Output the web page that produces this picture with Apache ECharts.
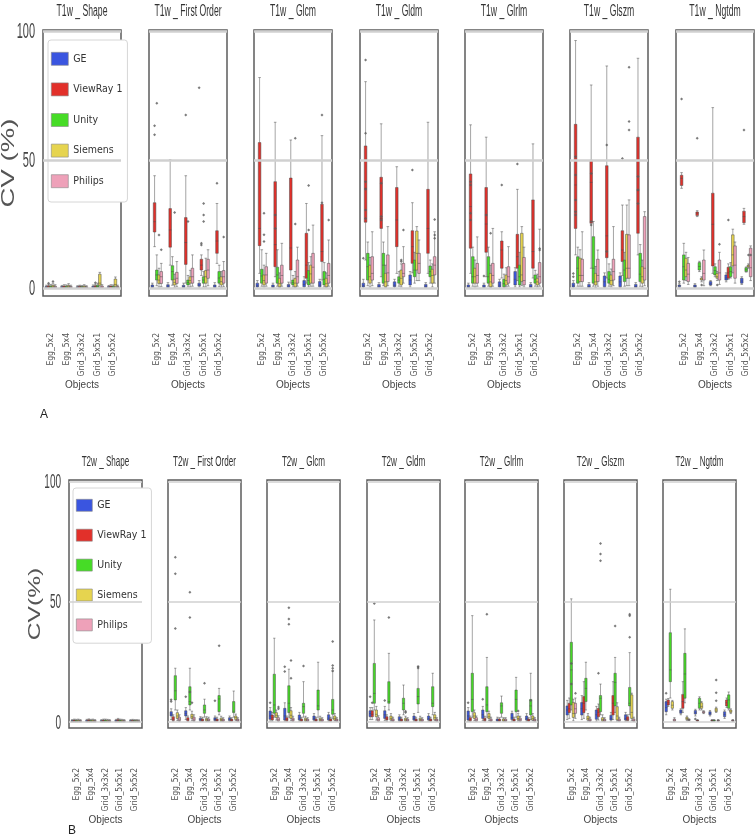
<!DOCTYPE html>
<html>
<head>
<meta charset="utf-8">
<script src="https://cdn.jsdelivr.net/npm/echarts@6/dist/echarts.min.js"></script>
<style>
  html, body { margin: 0; padding: 0; background: #fff; }
  #chart { width: 755px; height: 836px; }
</style>
</head>
<body>
<div id="chart"></div>
<script>
const objects = ['Egg_5x2', 'Egg_5x4', 'Grid_3x3x2', 'Grid_5x5x1', 'Grid_5x5x2'];
const vendors = ['GE', 'ViewRay 1', 'Unity', 'Siemens', 'Philips'];
const vendorColors = ['#3a55e0', '#e2302a', '#46dc26', '#e6d44f', '#eea1b9'];
const yTicks = [0, 50, 100];
const titlesT1 = ['T1w _ Shape', 'T1w _ First Order', 'T1w _ Glcm', 'T1w _ Gldm', 'T1w _ Glrlm', 'T1w _ Glszm', 'T1w _ Ngtdm'];
const titlesT2 = ['T2w _ Shape', 'T2w _ First Order', 'T2w _ Glcm', 'T2w _ Gldm', 'T2w _ Glrlm', 'T2w _ Glszm', 'T2w _ Ngtdm'];

// boxes: one row per object, inside it one box per vendor: [min, Q1, median, Q3, max]
const t1Shape = [
  [[0,0.2,0.4,0.7,1.2],[0,0.3,0.6,1,1.6],[0,0.2,0.5,0.9,1.5],[0.1,0.4,0.8,1.2,2],[0,0.2,0.5,0.8,1.4]],
  [[0,0.2,0.4,0.7,1.1],[0,0.3,0.5,0.9,1.4],[0,0.2,0.4,0.8,1.3],[0.1,0.3,0.7,1.1,1.8],[0,0.2,0.4,0.7,1.2]],
  [[0,0.2,0.4,0.6,1],[0,0.2,0.5,0.8,1.2],[0,0.2,0.4,0.7,1.1],[0.1,0.3,0.6,0.9,1.4],[0,0.2,0.4,0.6,1]],
  [[0,0.2,0.5,0.8,1.3],[0,0.3,0.6,1,1.6],[0,0.3,0.7,1.2,2],[0.3,1.2,2,5.5,6.2],[0,0.2,0.5,0.9,1.4]],
  [[0,0.2,0.4,0.7,1.1],[0,0.3,0.5,0.9,1.4],[0,0.2,0.5,0.8,1.3],[0.2,0.8,1.5,3.6,4.4],[0,0.2,0.4,0.7,1.2]]
];
const t1FirstOrder = [
  [[0,0.3,0.8,1.3,2],[16.2,21.9,25.9,33.3,43.8],[1,3.2,5.2,7.1,13],[0.5,1.9,3.2,5.2,7.8],[0.6,1.9,4.5,6.5,9.7]],
  [[0,0.3,0.8,1.4,2.2],[9,16,22.7,31,50],[1.2,3.2,6.5,8.8,12.3],[0.4,1.3,2.3,3.5,5.5],[0.6,1.9,3.9,6.2,10.4]],
  [[0,0.3,0.7,1.2,2],[2,9.3,17.8,27.5,43.8],[0.5,1.3,2.2,3.2,5],[0.5,2,3,4.5,7],[0.8,2,4.5,7.8,13]],
  [[0,0.8,1.3,2,3],[5,7.1,9,11.3,13],[0.5,2,3.2,4.5,6.5],[0.5,2,4.5,6.9,11.7],[1,3.9,7.1,11.3,15]],
  [[0,0.3,0.8,1.3,2.2],[9.7,13.6,18.4,22.4,33],[0.6,2,4,6.5,9],[0.4,1.3,2.6,4.5,6.5],[0.6,2,4.5,6.9,10.4]]
];
const t1Glcm = [
  [[0,0.5,1,2,3],[5.8,16.6,23.3,56.7,82],[0.8,2,4.8,7.4,15],[0.5,1.3,3,5.2,9],[0.8,2,5.2,8.4,13.6]],
  [[0,0.3,0.7,1.3,2],[4.5,8.4,17,41.5,64.6],[0.8,2,5.2,8.2,15],[0.3,0.6,1.8,3.9,6],[0.8,2,5,9,17.5]],
  [[0,0.4,0.9,1.5,2.4],[2,7.1,15.7,42.9,57.7],[0.5,1.3,2.2,3.2,5],[0.3,0.6,2,3.9,6.5],[0.8,2,4.5,11,16]],
  [[0,0.6,1.5,3,4.5],[2,3.9,9,21.4,33],[0.5,1.3,3,6.9,10],[0.8,2,5.6,9,12.3],[0.8,2,8.2,13.6,24.6]],
  [[0,0.6,1.2,2.6,3.5],[3.2,10.4,14.3,32.7,59.4],[0.5,1.3,3.5,6.5,10],[0.3,0.6,1.8,3.9,6],[0.8,2,5,9.7,18.8]]
];
const t1Gldm = [
  [[0,0.5,1,2,3.5],[11,25.7,38.9,55.4,80.4],[1,3.2,8.4,13.6,18],[0.5,2,4.5,9,12],[1,3.2,5.8,12.3,22]],
  [[0,0.3,0.8,1.5,2.2],[4.5,23.3,27.2,43.2,64],[1,2,9,13.6,18],[0.3,0.6,2.5,5.8,9],[1,2.6,6,13,24]],
  [[0,0.6,1.2,2.5,3.5],[5.8,16.2,26.6,39.2,47.3],[0.8,2,3.2,4.5,6.5],[0.5,1.3,3.9,7.1,9.5],[2,4.5,5.8,9.7,16.2]],
  [[0.5,1.3,3.2,5.2,6.5],[6,9.7,16.2,22.4,33.3],[2,4.5,7.1,11,14],[3,7.1,13.6,22.3,24],[3,5.8,9.7,13.6,18.8]],
  [[0,0.3,0.8,1.5,2.2],[5.8,13.6,23.3,38.5,64.6],[2,4.5,6.5,8.7,11],[0.5,2,5,7.4,9.5],[2,5.2,9,12.3,22]]
];
const t1Glrlm = [
  [[0,0.3,0.6,1.3,2],[5.8,15.6,31.8,44.5,63.6],[0.8,2,4.5,12.3,16],[0.5,2,4.5,7.8,11],[0.8,2,5,9.7,20]],
  [[0,0.3,0.6,1.3,2],[4.5,14,25,39.2,58.8],[0.8,2,4.5,12.3,16],[0.3,0.6,2.5,5.8,9],[0.8,2,5,9.7,23.3]],
  [[0,0.5,1.2,2.5,3.5],[4,7.8,14.9,18.4,22],[0.3,0.6,1.8,3.5,5.5],[0.5,1.3,3,5.2,8],[0.8,2,4.5,8.4,16.2]],
  [[0.5,1.3,3.5,6.5,8],[3,7.8,12.3,21,38.5],[0.5,1.3,4.5,9,14],[1,2.6,5.2,21.4,24],[0.5,1.3,3,12,16]],
  [[0,0.3,0.7,1.5,2.2],[4,7.8,14.3,34.4,56.2],[0.8,2,3.5,5.2,7],[0.5,1.3,2.5,3.9,5.5],[0.8,2,4.5,10,23]]
];
const t1Glszm = [
  [[0,0.5,1,2,3],[13,23.3,40.2,63.8,96.4],[0.8,2,7.8,12.3,16],[0.8,2.6,5,11.7,15],[0.8,2.6,5,11.3,22]],
  [[0,0.3,0.7,1.5,2.2],[7.8,25.3,41.2,49.9,79.1],[0.8,2,7.8,20.1,26],[0.3,1.3,2.5,5.8,8.5],[0.8,2.6,5,11.3,14.9]],
  [[0.3,0.6,2.5,4.8,6],[4,11.9,20.4,47.7,86.5],[0.8,2,3.5,6.5,9.5],[0.5,1.3,3,5.2,7.5],[1,3.2,6.5,11.3,24]],
  [[0.3,0.6,2.5,4.8,6],[5,10.4,14.9,22.4,32.4],[0.8,2.6,7.1,11,14],[1,3.9,7.8,21,32.4],[1,3.9,7.8,20.8,34.4]],
  [[0,0.3,0.7,1.5,2.2],[13,21.4,38,58.8,89.5],[0.8,2.6,5.5,13.6,17],[0.5,2,4.5,8.4,11],[1,3.2,7.8,27.9,29.8]]
];
const t1Ngtdm = [
  [[0.2,0.6,1,1.3,1.8],[38.9,40,42.8,44,45],[2,3.2,8.4,13,17.5],[3,4.5,7.1,11.7,14],[1.5,2.6,5.5,9.7,12]],
  [[0.2,0.4,0.8,1.3,1.8],[27.9,28.3,29.2,29.7,30.2],[6.5,7.1,8.5,10,10.5],[2.5,3.2,3.6,4,4.5],[1,3.2,5.8,11,14.9]],
  [[1,1.3,1.8,2.6,3],[5.8,8.7,24.9,37,70.3],[4.5,5.2,6.9,8.4,9.5],[3,3.9,4.5,5.8,6.5],[1.5,3.2,6,11,14]],
  [[2.5,3.2,4,5.2,6],[3.5,3.9,6,8.2,9.5],[4,4.5,6.5,8.4,10],[6,8.7,13,20.8,23],[2,3.9,9,16.5,18]],
  [[1.5,2,2.8,3.9,4.5],[24.9,25.5,27.9,30,31.1],[6.3,6.5,7.2,8,8.3],[7.8,8.3,8.7,9,9.5],[3,4.5,8,15.6,16.5]]
];

const t2Shape = [
  [[0,0.2,0.4,0.6,1],[0,0.2,0.5,0.8,1.2],[0,0.2,0.4,0.7,1.1],[0,0.3,0.5,0.8,1.2],[0,0.2,0.4,0.6,1]],
  [[0,0.2,0.4,0.7,1.1],[0,0.3,0.5,0.9,1.3],[0,0.2,0.4,0.7,1.1],[0,0.2,0.5,0.8,1.2],[0,0.2,0.4,0.6,1]],
  [[0,0.2,0.4,0.6,1],[0,0.2,0.5,0.8,1.2],[0,0.2,0.5,0.8,1.2],[0,0.2,0.4,0.7,1.1],[0,0.2,0.4,0.6,1]],
  [[0,0.2,0.4,0.7,1.1],[0,0.3,0.6,1,1.5],[0,0.2,0.5,0.8,1.2],[0,0.2,0.4,0.7,1.1],[0,0.2,0.4,0.6,1]],
  [[0,0.2,0.4,0.6,1],[0,0.2,0.4,0.7,1.1],[0,0.2,0.4,0.6,1],[0,0.2,0.4,0.6,1],[0,0.2,0.3,0.5,0.9]]
];
const t2FirstOrder = [
  [[1,2.5,3.3,4.3,5.5],[0.2,0.6,1.2,2.2,3],[5,9.2,13,19.3,22.4],[0.5,1.5,2.5,3.9,5],[0.2,0.6,1.2,2,3]],
  [[1,2.5,3.5,4.7,6],[0.2,0.5,1,1.8,2.5],[5,7.1,8.5,14.7,22.4],[0.5,1.5,2.2,3.2,4.5],[0.2,0.6,1.2,2,3]],
  [[0.2,0.6,1,1.6,2.2],[0.2,0.4,0.8,1.3,2],[2,3.6,5,7.1,9.5],[0.2,0.5,1,1.5,2.2],[0.2,0.5,0.8,1.3,2]],
  [[0.2,0.6,1.1,1.8,2.5],[0.2,0.4,0.8,1.3,2],[3,4.3,9.6,11,14],[0.2,0.5,1,1.6,2.4],[0.2,0.4,0.8,1.2,1.8]],
  [[0.2,0.6,1.1,1.8,2.5],[0.2,0.4,0.8,1.2,1.8],[2,3.9,4.5,8.5,12.9],[0.5,1,1.8,2.5,3.3],[0.2,0.4,0.8,1.2,1.8]]
];
const t2Glcm = [
  [[0.3,1.1,2.5,4.6,6],[0.3,0.8,1.8,2.9,4],[2,3.6,7.1,19.9,34.9],[0.8,1.9,2.8,3.9,5],[0.2,0.5,1,1.8,2.6]],
  [[0.3,0.8,2.5,5.7,8],[0.2,0.5,1,1.8,2.5],[2,3.9,7.8,15.1,22],[0.5,1.5,2.8,4.7,6],[0.2,0.5,1,1.6,2.4]],
  [[0.3,0.8,1.6,2.9,4],[0.2,0.4,0.8,1.3,2],[2,3.6,6.4,7.8,16.8],[0.2,0.5,1,1.6,2.4],[0.2,0.4,0.8,1.2,1.8]],
  [[0.3,0.8,1.5,2.5,3.5],[0.2,0.4,0.8,1.3,2],[2,5,6.7,13.3,24.9],[0.2,0.5,1,1.6,2.4],[0.2,0.4,0.8,1.2,1.8]],
  [[0.3,0.8,1.6,3,4],[0.2,0.4,0.8,1.3,2],[1.5,3.2,5,9.4,21],[0.4,0.8,1.5,2.5,3.5],[0.2,0.4,0.8,1.2,1.8]]
];
const t2Gldm = [
  [[1,2.2,3.5,4.7,6],[1,2.2,3.2,4.7,6],[5,7.8,11.9,24.4,42.5],[0.8,2.2,3.2,5,6.5],[0.2,0.5,1,1.8,2.6]],
  [[0.5,1.5,3,4.7,6.5],[0.2,0.8,1.3,2.2,3],[5,7.8,8.5,16.8,28.6],[0.3,0.8,1.5,2.5,3.5],[0.2,0.4,0.8,1.3,2]],
  [[0.2,0.6,1.2,2.2,3],[0.2,0.4,0.8,1.3,2],[3,5,7.8,9.9,15.4],[0.2,0.5,1,1.6,2.4],[0.2,0.4,0.8,1.2,1.8]],
  [[0.3,0.8,1.5,2.5,3.5],[0.2,0.4,0.8,1.3,2],[4,7.5,10.6,14,23.3],[0.2,0.5,1,1.6,2.4],[0.2,0.4,0.8,1.2,1.8]],
  [[0.3,0.8,1.5,2.5,3.5],[0.2,0.4,0.8,1.3,2],[3,6.4,7.8,14.7,20.3],[0.5,1,1.8,3,4],[0.2,0.4,0.8,1.2,1.8]]
];
const t2Glrlm = [
  [[0.3,0.8,2.5,4.6,6],[0.2,0.5,1,1.8,2.5],[2,4.3,9.4,20.3,44.3],[0.5,1.5,2.5,3.9,5],[0.2,0.5,1,1.8,2.5]],
  [[0.5,1.5,3,5,6.5],[0.2,0.5,1,1.6,2.4],[2,4.3,7.1,14.7,26.9],[0.5,1.5,2.2,3.5,4.5],[0.2,0.4,0.8,1.3,2]],
  [[0.2,0.4,0.8,1.3,2],[0.2,0.4,0.7,1.2,1.8],[2,3.6,6.7,8,10.8],[0.2,0.4,0.8,1.3,1.8],[0.2,0.4,0.7,1.2,1.8]],
  [[0.3,1,1.8,3.6,4.5],[0.2,0.4,0.8,1.3,2],[2,4.3,9.4,13.3,18.6],[0.3,0.8,1.5,2.5,3.5],[0.2,0.5,1,1.6,2.4]],
  [[0.3,0.8,1.5,2.5,3.5],[0.2,0.4,0.8,1.2,1.8],[1,2.9,6.7,9.4,20.3],[0.5,0.8,1.5,2.5,3.5],[0.2,0.4,0.8,1.2,1.8]]
];
const t2Glszm = [
  [[1,2.9,5,6.7,9],[1.5,3.9,5.5,7.8,10],[5,7.1,21.7,33.2,51.3],[0.5,1.9,3.5,8.1,9.5],[1.5,3.6,5.5,7.8,10]],
  [[1,2.9,5.5,8.1,11],[1.5,3.9,7.8,10.6,16.8],[5,8.5,14,18.2,24.9],[0.3,0.8,1.5,2.5,3.5],[0.2,0.4,0.8,1.3,2]],
  [[0.3,1.1,3,5,6.5],[0.8,2.2,4,5.7,7.5],[3,4.3,9.9,11,15.8],[0.2,0.5,1,1.8,3],[0.2,0.4,0.8,1.2,1.8]],
  [[0.3,0.8,1.5,2.8,4],[1,2.9,7.8,11,16.8],[4,6.7,16.5,20.3,26.9],[0.3,0.8,2.5,6.4,8],[0.2,0.4,0.8,1.3,2]],
  [[0.3,0.8,1.5,3,4],[0.3,0.6,1.2,2.2,3],[3,6.7,7.8,14.4,28.9],[0.5,1.5,4,11.3,12],[0.2,0.4,0.8,1.3,2]]
];
const t2Ngtdm = [
  [[3,4.3,6,8.5,9.5],[6.5,7.1,8,9.2,9.8],[10,16.8,21.7,37.2,55.3],[5,5.7,7,8.5,9],[0.2,0.4,0.8,1.2,1.8]],
  [[3,3.6,4.3,5,5.5],[4,5.7,8.5,11.5,16.8],[8,9.9,20,28.6,38.8],[0.5,1,1.5,2,2.5],[0.5,0.7,0.9,1.1,1.3]],
  [[2.5,3.3,4,4.8,5.3],[0.2,0.4,0.6,0.8,1],[5,5.7,7.8,9.9,10.5],[5,5.7,6.5,8,8.5],[3.5,3.8,4.1,4.4,4.7]],
  [[2.5,3,3.6,4.3,4.8],[0.2,0.4,0.6,0.8,1],[0.2,0.4,0.6,0.8,1],[4,4.3,5,5.7,6.2],[0.2,0.4,0.6,0.8,1]],
  [[1.5,2.2,3.2,4.3,5],[6,6.7,8,9.2,10],[5,5.7,9.2,11.3,12.5],[3.5,4,4.5,5,5.5],[0.2,0.4,0.6,0.8,1]]
];

// outliers: [object, vendor, value]
const t1ShapeOut = [[0,3,2.6],[0,1,2],[3,1,2.2]];
const t1FirstOrderOut = [[0,1,63.2],[0,1,59.7],[0,2,72],[0,3,20.7],[0,4,15],[1,3,29.5],[2,1,67.4],[2,2,26],
  [3,0,78],[3,1,17.5],[3,1,16.8],[3,2,33],[3,2,28.5],[3,2,26],[4,1,40.9],[4,4,20]];
const t1GlcmOut = [[0,3,29.2],[0,3,20.8],[0,3,18.2],[1,1,28.5],[1,1,23.3],[2,3,58.4],[2,3,25],[3,2,40],[3,2,22.7],
  [4,1,67.4],[4,1,33.3],[4,4,26.6]];
const t1GldmOut = [[0,1,88.8],[0,1,60.3],[0,1,41.5],[0,1,38.5],[0,1,30.5],[0,1,27.2],[0,0,11.7],[1,1,40.9],[1,1,27.9],
  [1,1,26.6],[2,3,11],[2,3,10.4],[2,4,22.7],[3,1,46],[4,4,26.8],[4,4,20.7],[4,4,19.5]];
const t1GlrlmOut = [[0,1,41.5],[0,1,40.2],[0,1,29.2],[0,1,26.6],[1,0,4.8],[1,1,28.5],[1,3,21.4],[2,1,40.2],[3,1,48.4],
  [4,4,15.5],[4,4,14.9]];
const t1GlszmOut = [[0,0,4.5],[0,0,5.8],[0,1,51.2],[0,1,44.1],[0,1,34.4],[0,1,29.8],[0,1,28.5],[1,1,44.7],[1,1,26],
  [1,1,24.6],[2,1,55.8],[2,1,14.3],[3,1,50.5],[3,4,86],[3,4,64.9],[3,4,61.6],[4,1,43.5],[4,1,38.3],[4,1,33]];
const t1NgtdmOut = [[0,1,73.7],[0,0,2.5],[1,1,58.4],[1,3,1.3],[2,4,17.1],[2,3,1.3],[3,1,26.6],[4,1,61.6],[4,3,13],[4,4,13]];
const t2ShapeOut = [];
const t2FirstOrderOut = [[0,2,68.6],[0,2,61.7],[0,2,38.9],[0,0,8.5],[0,0,9.3],[1,0,10.5],[1,2,54],[1,2,43.5],[1,2,12.5],
  [1,3,8],[2,2,16.1],[3,2,31.8],[3,0,8.9]];
const t2GlcmOut = [[0,4,5.5],[0,4,6.2],[0,0,8],[1,0,23],[1,0,21],[1,2,47.6],[1,2,42.9],[1,2,40.7],[1,3,25.6],[1,3,18.2],
  [2,2,23.3],[4,2,33.5],[4,2,23.5],[4,2,22.4],[4,2,21.3]];
const t2GldmOut = [[0,2,49.4],[0,0,10.5],[0,1,8],[1,2,43.5],[1,0,9],[2,3,4],[2,3,4.5],[3,2,23],[3,2,22.5]];
const t2GlrlmOut = [[0,0,8],[1,2,44.9],[1,0,9.5],[3,3,4.6],[4,2,9]];
const t2GlszmOut = [[0,2,24.4],[0,2,15.8],[0,4,12],[2,2,74.4],[2,2,70],[2,2,67.2],[2,1,20.3],[3,2,40],
  [4,2,44.9],[4,2,44.3],[4,2,35.3]];
const t2NgtdmOut = [[0,0,12],[2,0,1.2],[3,3,17.5],[3,3,12.2],[3,3,8.8]];

const narrow = "'Liberation Sans Narrow', 'DejaVu Sans Condensed', 'Liberation Sans', sans-serif";
const slots = Array.from({ length: 35 }, (_, i) => String(i));

const panels = [
  {
    titles: titlesT1, letter: 'A', yName: 'CV (%)',
    boxes: [t1Shape, t1FirstOrder, t1Glcm, t1Gldm, t1Glrlm, t1Glszm, t1Ngtdm],
    outs: [t1ShapeOut, t1FirstOrderOut, t1GlcmOut, t1GldmOut, t1GlrlmOut, t1GlszmOut, t1NgtdmOut],
    lefts: [43, 149, 254, 360, 465, 570, 676], width: 78, top: 30, height: 266,
    min: -3, max: 100.5, boxW: 2.6, labelMargin: 37, nameGap: 71, titleY: 12, titleFont: 16,
    tickFont: 22, yNameFont: 19, yNameX: 9, yNameScale: 1.45, letterX: 40, letterY: 415,
    gridLine: 2.5
  },
  {
    titles: titlesT2, letter: 'B', yName: 'CV(%)',
    boxes: [t2Shape, t2FirstOrder, t2Glcm, t2Gldm, t2Glrlm, t2Glszm, t2Ngtdm],
    outs: [t2ShapeOut, t2FirstOrderOut, t2GlcmOut, t2GldmOut, t2GlrlmOut, t2GlszmOut, t2NgtdmOut],
    lefts: [69, 168, 267, 367, 465, 564, 663], width: 73, top: 480, height: 248,
    min: -2.5, max: 100.8, boxW: 2.3, labelMargin: 40, nameGap: 75, titleY: 462, titleFont: 15,
    tickFont: 20, yNameFont: 17, yNameX: 35, yNameScale: 1.45, letterX: 68, letterY: 831,
    gridLine: 1.6
  }
];

const grid = [], xAxis = [], yAxis = [], series = [];
panels.forEach(p => {
  p.firstY = yAxis.length;
  p.titles.forEach((t, fi) => {
    const g = grid.length;
    grid.push({ left: p.lefts[fi], top: p.top, width: p.width, height: p.height,
      show: true, borderColor: '#5c5c5c', borderWidth: 1.5, backgroundColor: '#fff' });
    const xLab = xAxis.length;
    xAxis.push({
      gridIndex: g, type: 'category', data: objects,
      axisLine: { show: false }, axisTick: { show: false }, splitLine: { show: false },
      axisLabel: { rotate: 90, interval: 0, margin: p.labelMargin, fontSize: 8.5, color: '#555', fontFamily: narrow },
      name: 'Objects', nameLocation: 'middle', nameGap: p.nameGap,
      nameTextStyle: { fontSize: 10, color: '#444', fontFamily: 'Liberation Sans' }
    });
    const xSlot = xAxis.length;
    xAxis.push({ gridIndex: g, type: 'category', data: slots, show: false });
    yAxis.push({ gridIndex: g, type: 'value', min: p.min, max: p.max,
      axisLine: { show: false }, axisTick: { show: false }, axisLabel: { show: false }, splitLine: { show: false } });

    series.push({
      type: 'line', xAxisIndex: xLab, yAxisIndex: g, data: [], silent: true, z: 1,
      markLine: { silent: true, symbol: 'none', label: { show: false }, animation: false,
        lineStyle: { color: '#d0d0d0', width: p.gridLine, type: 'solid' },
        data: yTicks.map(v => ({ yAxis: v })) }
    });
    vendors.forEach((v, vi) => {
      series.push({
        type: 'boxplot', name: v, xAxisIndex: xLab, yAxisIndex: g, z: 3,
        boxWidth: [p.boxW, p.boxW],
        itemStyle: { color: vendorColors[vi], borderColor: '#4a4a4a', borderWidth: 0.5 },
        data: p.boxes[fi].map(row => row[vi])
      });
    });
    series.push({
      type: 'scatter', xAxisIndex: xSlot, yAxisIndex: g, z: 4, symbol: 'diamond', symbolSize: 3,
      itemStyle: { color: '#5a5a5a' },
      data: p.outs[fi].map(o => [o[0] * 7 + 1 + o[1], o[2]])
    });
  });
});

const legendBase = {
  orient: 'vertical', icon: 'rect', borderColor: '#d6d6d6', borderWidth: 1, borderRadius: 3,
  backgroundColor: '#fff', selectedMode: false,
  data: vendors.map((name, i) => ({ name, itemStyle: { color: vendorColors[i], borderColor: '#888', borderWidth: 0.6 } })),
  textStyle: { fontFamily: narrow, fontSize: 10.5, color: '#333' }
};

const chart = echarts.init(document.getElementById('chart'), null, { renderer: 'canvas' });
chart.setOption({
  animation: false,
  backgroundColor: '#fff',
  grid, xAxis, yAxis, series,
  legend: [
    Object.assign({}, legendBase, { left: 48, top: 40, itemWidth: 17, itemHeight: 13, itemGap: 17, padding: [12, 5, 14, 3] }),
    Object.assign({}, legendBase, { left: 73, top: 488, itemWidth: 16, itemHeight: 12, itemGap: 17.3, padding: [11, 5, 12, 3] })
  ]
});

// texts drawn as graphic elements so they can be condensed like the original figure
const elements = [];
panels.forEach(p => {
  p.titles.forEach((t, fi) => {
    elements.push({ type: 'text', x: p.lefts[fi] + p.width / 2, y: p.titleY, scaleX: 0.54,
      style: { text: t, fill: '#333', font: p.titleFont + 'px "Liberation Sans"', align: 'center', verticalAlign: 'middle' } });
  });
  yTicks.forEach(v => {
    const y = chart.convertToPixel({ yAxisIndex: p.firstY }, v);
    elements.push({ type: 'text', x: p.lefts[0] - 8, y: y + 1, scaleX: 0.5,
      style: { text: String(v), fill: '#444', font: p.tickFont + 'px "Liberation Sans"', align: 'right', verticalAlign: 'middle' } });
  });
  elements.push({ type: 'text', x: p.yNameX, y: p.top + p.height / 2, rotation: Math.PI / 2, scaleX: p.yNameScale,
    style: { text: p.yName, fill: '#555', font: p.yNameFont + 'px "Liberation Sans"', align: 'center', verticalAlign: 'middle' } });
  elements.push({ type: 'text', x: p.letterX, y: p.letterY,
    style: { text: p.letter, fill: '#222', font: '12px "Liberation Sans"', align: 'left', verticalAlign: 'middle' } });
});
chart.setOption({ graphic: { elements } });
</script>
</body>
</html>
